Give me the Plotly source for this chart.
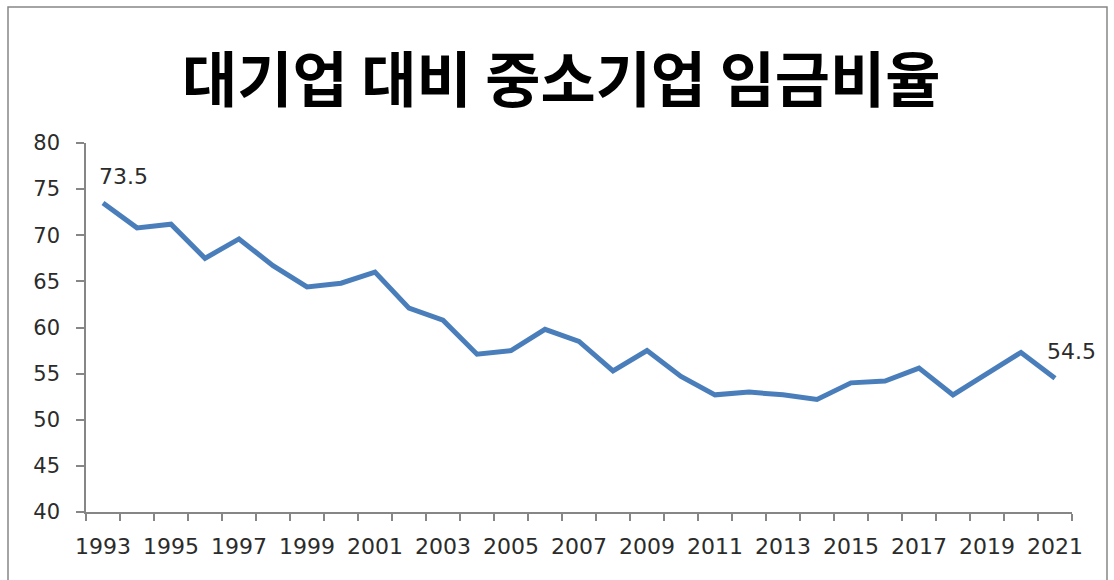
import plotly.graph_objects as go

# Wage ratio of SMEs to large firms (%), 1993-2021
years = list(range(1993, 2022))
ratio = [73.5, 70.8, 71.2, 67.5, 69.6, 66.7, 64.4, 64.8, 66.0, 62.1,
         60.8, 57.1, 57.5, 59.8, 58.5, 55.3, 57.5, 54.7, 52.7, 53.0,
         52.7, 52.2, 54.0, 54.2, 55.6, 52.7, 55.0, 57.3, 54.5]
x_labels = [y for y in years if (y - 1993) % 2 == 0]
y_ticks = [40, 45, 50, 55, 60, 65, 70, 75, 80]
labelled_years = [1993, 2021]

title_text = "대기업 대비 중소기업 임금비율"

W, H = 1114, 580
L, R, T, B = 86, 42, 143, 68
pw, ph = W - L - R, H - T - B

axis_grey = "#868686"
text_grey = "#2b2b2b"
line_blue = "#4A7EBB"
num_font = "DejaVu Sans"

fig = go.Figure()
fig.add_trace(go.Scatter(
    x=years, y=ratio, mode="lines",
    line=dict(color=line_blue, width=5),
    hoverinfo="x+y", showlegend=False,
))

annotations = []
for yr in labelled_years:
    v = ratio[years.index(yr)]
    annotations.append(dict(
        x=yr, y=v, xref="x", yref="y", text=f"{v}",
        showarrow=False, xanchor="left", yanchor="bottom",
        xshift=-10 if yr == years[-1] else -6, yshift=12,
        font=dict(family=num_font, size=22, color=text_grey),
    ))

annotations.append(dict(
    x=(561 - L) / pw, y=(H - B - 75) / ph, xref="paper", yref="paper",
    text=f"<b>{title_text}</b>", showarrow=False,
    xanchor="center", yanchor="middle",
    font=dict(family="Noto Sans CJK KR", size=60, color="#000000"),
))

def px_x(p):
    return (p - L) / pw

def px_y(p):
    return (H - B - p) / ph

# chart-area frame
shapes = [dict(
    type="rect", xref="paper", yref="paper",
    x0=px_x(8), x1=px_x(1107), y0=px_y(590), y1=px_y(7),
    line=dict(color=axis_grey, width=1.5), fillcolor="rgba(0,0,0,0)",
    layer="below",
)]

fig.update_layout(
    width=W, height=H,
    margin=dict(l=L, r=R, t=T, b=B),
    paper_bgcolor="white", plot_bgcolor="white",
    annotations=annotations, shapes=shapes,
    xaxis=dict(
        range=[years[0] - 0.5, years[-1] + 0.5],
        tickmode="array", tickvals=x_labels,
        ticktext=[str(v) for v in x_labels],
        ticks="", showgrid=False, zeroline=False,
        showline=True, linecolor=axis_grey, linewidth=1.5,
        tickfont=dict(family=num_font, size=22, color=text_grey),
        ticklabelstandoff=14,
        minor=dict(
            tickmode="array",
            tickvals=[y - 0.5 for y in years] + [years[-1] + 0.5],
            ticks="outside", ticklen=7, tickcolor=axis_grey, tickwidth=1.5,
            showgrid=False,
        ),
        fixedrange=True,
    ),
    yaxis=dict(
        range=[40, 80], tickmode="array", tickvals=y_ticks,
        ticks="outside", ticklen=8, tickcolor=axis_grey, tickwidth=1.5,
        showgrid=False, zeroline=False,
        showline=True, linecolor=axis_grey, linewidth=1.5,
        tickfont=dict(family=num_font, size=21, color=text_grey),
        ticklabelstandoff=12,
        fixedrange=True,
    ),
)

fig.write_html("out.html")
